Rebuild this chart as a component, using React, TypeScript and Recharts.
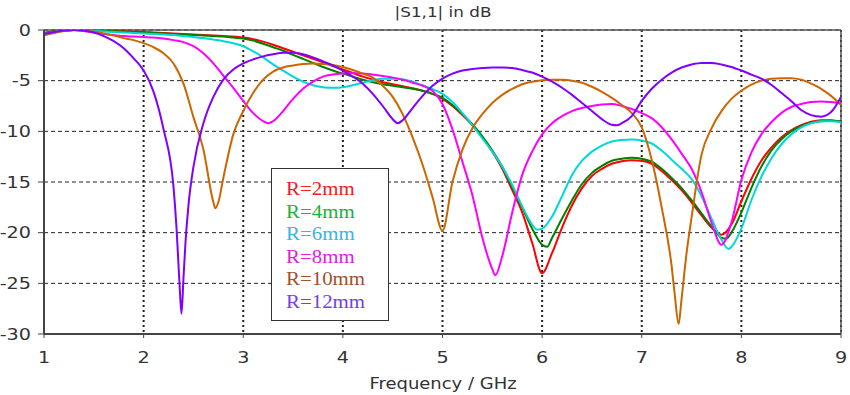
import { CartesianGrid, Legend, Line, LineChart, ReferenceLine, XAxis, YAxis } from "recharts";

// shared frequency grid, GHz
const FREQ = [
  1.0, 1.1, 1.2, 1.3, 1.4, 1.5, 1.6, 1.7, 1.8, 1.9,
  2.0, 2.1, 2.2, 2.3, 2.4, 2.5, 2.6, 2.7, 2.8, 2.9,
  3.0, 3.1, 3.2, 3.3, 3.4, 3.5, 3.6, 3.7, 3.8, 3.9,
  4.0, 4.1, 4.2, 4.3, 4.4, 4.5, 4.6, 4.7, 4.8, 4.9,
  5.0, 5.1, 5.2, 5.3, 5.4, 5.5, 5.6, 5.7, 5.8, 5.9,
  6.0, 6.1, 6.2, 6.3, 6.4, 6.5, 6.6, 6.7, 6.8, 6.9,
  7.0, 7.1, 7.2, 7.3, 7.4, 7.5, 7.6, 7.7, 7.8, 7.9,
  8.0, 8.1, 8.2, 8.3, 8.4, 8.5, 8.6, 8.7, 8.8, 8.9, 9.0,
];

// |S11| in dB on the FREQ grid
const R2 = [
  -0.3, -0.15, -0.05, 0, 0, -0.05, -0.08, -0.1, -0.13, -0.17,
  -0.2, -0.25, -0.3, -0.35, -0.4, -0.45, -0.5, -0.55, -0.6, -0.65,
  -0.75, -0.9, -1.15, -1.45, -1.8, -2.15, -2.5, -2.85, -3.2, -3.55,
  -3.9, -4.25, -4.6, -4.9, -5.15, -5.35, -5.55, -5.75, -6.0, -6.3,
  -6.8, -7.5, -8.4, -9.4, -10.6, -12.0, -13.7, -15.8, -18.0, -21.0,
  -24.0, -22.0, -19.5, -17.3, -15.6, -14.4, -13.7, -13.2, -12.95, -12.85,
  -12.9, -13.2, -13.9, -14.8, -15.8, -17.0, -18.3, -19.5, -20.2, -19.2,
  -16.9, -14.7, -12.9, -11.6, -10.6, -9.9, -9.4, -9.05, -8.9, -8.9, -9.1,
];
const R4 = [
  -0.3, -0.15, -0.05, 0, 0, -0.05, -0.08, -0.12, -0.15, -0.2,
  -0.25, -0.3, -0.35, -0.4, -0.45, -0.5, -0.55, -0.6, -0.65, -0.75,
  -0.85, -1.05, -1.35, -1.7, -2.05, -2.45, -2.85, -3.25, -3.65, -4.0,
  -4.3, -4.6, -4.9, -5.15, -5.35, -5.5, -5.65, -5.8, -6.0, -6.3,
  -6.7, -7.4, -8.3, -9.3, -10.5, -11.9, -13.5, -15.5, -17.5, -19.6,
  -21.2, -20.5, -18.6, -16.8, -15.2, -14.1, -13.4, -12.9, -12.7, -12.6,
  -12.7, -13.0, -13.7, -14.6, -15.6, -16.8, -18.1, -19.4, -20.5, -20.0,
  -18.0, -15.6, -13.5, -11.9, -10.8, -10.0, -9.5, -9.15, -9.0, -8.95, -9.0,
];
const R6 = [
  -0.4, -0.2, -0.05, 0, -0.05, -0.1, -0.15, -0.2, -0.25, -0.3,
  -0.35, -0.4, -0.45, -0.5, -0.6, -0.7, -0.8, -0.95, -1.1, -1.3,
  -1.6, -2.1, -2.7, -3.4, -4.0, -4.6, -5.1, -5.45, -5.65, -5.7,
  -5.65, -5.45, -5.2, -4.95, -4.8, -4.8, -4.85, -5.1, -5.45, -5.85,
  -6.3, -7.1, -8.2, -9.4, -10.7, -12.0, -13.5, -15.3, -17.4, -19.2,
  -19.6, -18.4, -16.4, -14.3, -12.9, -12.0, -11.4, -11.0, -10.85, -10.8,
  -10.9, -11.2, -11.9, -12.8, -13.7, -14.7, -16.4, -18.6, -20.7, -21.4,
  -19.6, -16.8, -14.5, -12.7, -11.3, -10.3, -9.6, -9.2, -9.0, -9.0, -9.1,
];
const R8 = [
  -0.5, -0.25, -0.05, 0, -0.1, -0.25, -0.4, -0.5, -0.6, -0.65,
  -0.7, -0.75, -0.85, -1.0, -1.2, -1.6, -2.3, -3.3, -4.5, -5.7,
  -7.0, -8.2, -9.0, -9.0, -8.0, -6.8, -5.8, -5.1, -4.6, -4.4,
  -4.3, -4.25, -4.3, -4.4, -4.55, -4.7, -4.9, -5.2, -5.5, -6.0,
  -7.3, -9.8, -13.0, -16.3, -20.5, -23.6, -22.3, -18.0, -14.3, -12.0,
  -10.3, -9.2, -8.5, -8.0, -7.7, -7.5, -7.35, -7.3, -7.5, -7.8,
  -8.2, -8.7, -9.6, -10.8, -12.2, -13.7, -16.0, -19.0, -21.2, -19.0,
  -14.8, -12.1, -10.3, -9.1, -8.2, -7.6, -7.3, -7.1, -7.05, -7.1, -7.2,
];
const R10 = [
  -0.5, -0.3, -0.1, 0, -0.05, -0.15, -0.35, -0.55, -0.8, -1.0,
  -1.3, -1.7, -2.3, -3.3, -5.3, -8.6, -11.8, -17.0, -14.6, -10.3,
  -8.0, -6.2, -4.9, -4.1, -3.7, -3.5, -3.35, -3.3, -3.35, -3.45,
  -3.65, -3.95, -4.3, -4.7, -5.5, -6.6, -8.3, -10.6, -13.3, -16.5,
  -19.8, -15.0, -11.8, -9.7, -8.3, -7.2, -6.4, -5.8, -5.35, -5.1,
  -4.95, -4.9, -4.9, -5.0, -5.2, -5.6, -6.1, -6.7, -7.4, -8.2,
  -9.6, -12.8, -17.5, -23.3, -26.5, -18.5, -12.3, -9.7, -8.0, -6.8,
  -6.0, -5.4, -5.0, -4.8, -4.75, -4.75, -4.9, -5.3, -5.8, -6.5, -7.4,
];
const R12 = [
  -0.4, -0.2, -0.05, 0, -0.05, -0.25, -0.6, -1.1, -1.8, -2.8,
  -4.0, -6.1, -9.8, -15.5, -24.5, -13.5, -9.2, -6.6, -4.9, -3.9,
  -3.3, -2.9, -2.6, -2.4, -2.25, -2.25, -2.4, -2.7, -3.1, -3.5,
  -4.0, -4.6, -5.3, -6.3, -7.5, -8.8, -8.9, -7.7, -6.5, -5.5,
  -4.8, -4.3, -4.0, -3.85, -3.75, -3.7, -3.7, -3.75, -3.95, -4.2,
  -4.6, -5.1, -5.7, -6.4, -7.2, -8.0, -8.8, -9.35, -9.2, -8.5,
  -7.0, -5.8, -4.9, -4.2, -3.7, -3.4, -3.25, -3.25, -3.4, -3.65,
  -4.0, -4.4, -4.8, -5.4, -6.2, -7.0, -7.9, -8.4, -8.55, -8.1, -6.6,
];

// extra samples around the narrow resonances
const R2_DIP_F: number[] = [];
const R2_DIP_V: number[] = [];
const R4_DIP_F = [6.05, 7.85];
const R4_DIP_V = [-21.4, -20.6];
const R6_DIP_F = [5.95, 7.87];
const R6_DIP_V = [-19.7, -21.6];
const R8_DIP_F = [3.25, 5.53];
const R8_DIP_V = [-9.2, -24.2];
const R10_DIP_F = [2.72, 2.75, 7.33, 7.37, 7.45];
const R10_DIP_V = [-17.6, -17.0, -26.0, -29.0, -22.0];
const R12_DIP_F = [2.33, 2.36, 2.38, 2.42, 2.45, 4.55, 6.75];
const R12_DIP_V = [-19.5, -25.0, -28.0, -21.0, -17.3, -9.2, -9.4];

const LABELS = ["R=2mm", "R=4mm", "R=6mm", "R=8mm", "R=10mm", "R=12mm"];
const LINE_COLORS = ["#ff0000", "#008000", "#00d8d8", "#ff00ff", "#cc6600", "#8000ff"];
const TEXT_COLORS = ["#f02020", "#20b040", "#3cb4dc", "#e020e0", "#a0522d", "#7040ee"];

const X_TICKS = [1, 2, 3, 4, 5, 6, 7, 8, 9];
const Y_TICKS = [-30, -25, -20, -15, -10, -5, 0];

const SANS = "'DejaVu Sans', Verdana, sans-serif";
const STRETCH = 1.2;

function buildSeries(values: number[], dipF: number[], dipV: number[]) {
  const pts = FREQ.map((f, i) => ({ f, v: values[i] }));
  dipF.forEach((f, i) => pts.push({ f, v: dipV[i] }));
  return pts.sort((a, b) => a.f - b.f);
}

const SERIES = [
  buildSeries(R2, R2_DIP_F, R2_DIP_V),
  buildSeries(R4, R4_DIP_F, R4_DIP_V),
  buildSeries(R6, R6_DIP_F, R6_DIP_V),
  buildSeries(R8, R8_DIP_F, R8_DIP_V),
  buildSeries(R10, R10_DIP_F, R10_DIP_V),
  buildSeries(R12, R12_DIP_F, R12_DIP_V),
];

function XTick(props: any) {
  const { x, y, payload } = props;
  return (
    <g transform={`translate(${x},${y})`}>
      <text
        transform={`scale(${STRETCH},1)`}
        textAnchor="middle"
        dy="0.71em"
        fill="#333"
        fontSize={16}
        fontFamily={SANS}
      >
        {payload.value}
      </text>
    </g>
  );
}

function YTick(props: any) {
  const { x, y, payload } = props;
  return (
    <g transform={`translate(${x},${y})`}>
      <text
        transform={`scale(${STRETCH},1)`}
        textAnchor="end"
        dy="0.355em"
        fill="#333"
        fontSize={16}
        fontFamily={SANS}
      >
        {payload.value}
      </text>
    </g>
  );
}

function LegendBox() {
  return (
    <div
      style={{
        width: 118,
        height: 153,
        boxSizing: "border-box",
        border: "1.5px solid #333",
        background: "#fff",
        padding: "9px 0 0 14px",
      }}
    >
      {LABELS.map((label, i) => (
        <div
          key={label}
          style={{
            color: TEXT_COLORS[i],
            fontFamily: "'Liberation Serif', 'Times New Roman', serif",
            fontSize: 18,
            lineHeight: "22.6px",
            height: 22.6,
            transform: "scaleX(1.16)",
            transformOrigin: "left center",
            whiteSpace: "nowrap",
          }}
        >
          {label}
        </div>
      ))}
    </div>
  );
}

export default function App() {
  return (
    <div style={{ position: "absolute", left: 0, top: 0, width: 850, height: 395, background: "#fff" }}>
      <LineChart width={850} height={395} margin={{ top: 30, right: 9, left: 4, bottom: 21 }}>
        <CartesianGrid horizontal vertical={false} stroke="#222" strokeDasharray="4 3" />
        <CartesianGrid horizontal={false} vertical stroke="#222" strokeWidth={2} strokeDasharray="2 3" />
        <XAxis
          type="number"
          dataKey="f"
          domain={[1, 9]}
          ticks={X_TICKS}
          allowDataOverflow
          height={40}
          tickSize={4}
          tickMargin={14}
          tick={<XTick />}
          axisLine={{ stroke: "#444", strokeWidth: 2 }}
          tickLine={{ stroke: "#444" }}
        />
        <YAxis
          type="number"
          domain={[-30, 0]}
          ticks={Y_TICKS}
          allowDataOverflow
          width={40}
          tickSize={6}
          tickMargin={7}
          tick={<YTick />}
          axisLine={{ stroke: "#444", strokeWidth: 2 }}
          tickLine={{ stroke: "#444" }}
        />
        <ReferenceLine y={0} stroke="#555" strokeWidth={1.5} />
        <ReferenceLine x={9} stroke="#555" strokeWidth={1.5} />
        {SERIES.map((data, i) => (
          <Line
            key={LABELS[i]}
            data={data}
            dataKey="v"
            name={LABELS[i]}
            type="monotone"
            stroke={LINE_COLORS[i]}
            strokeWidth={2}
            dot={false}
            activeDot={false}
            isAnimationActive={false}
          />
        ))}
        <Legend
          layout="horizontal"
          verticalAlign="middle"
          align="center"
          wrapperStyle={{ left: 271, top: 168, width: 118, height: 153 }}
          content={() => <LegendBox />}
        />
      </LineChart>
      <svg width={850} height={395} style={{ position: "absolute", left: 0, top: 0, pointerEvents: "none" }}>
        <g transform="translate(443,17)">
          <text transform={`scale(${STRETCH},1)`} textAnchor="middle" fontSize={14} fontFamily={SANS} fill="#333">
            |S1,1| in dB
          </text>
        </g>
        <g transform="translate(443,389)">
          <text transform={`scale(${STRETCH},1)`} textAnchor="middle" fontSize={15} fontFamily={SANS} fill="#333">
            Frequency / GHz
          </text>
        </g>
      </svg>
    </div>
  );
}
